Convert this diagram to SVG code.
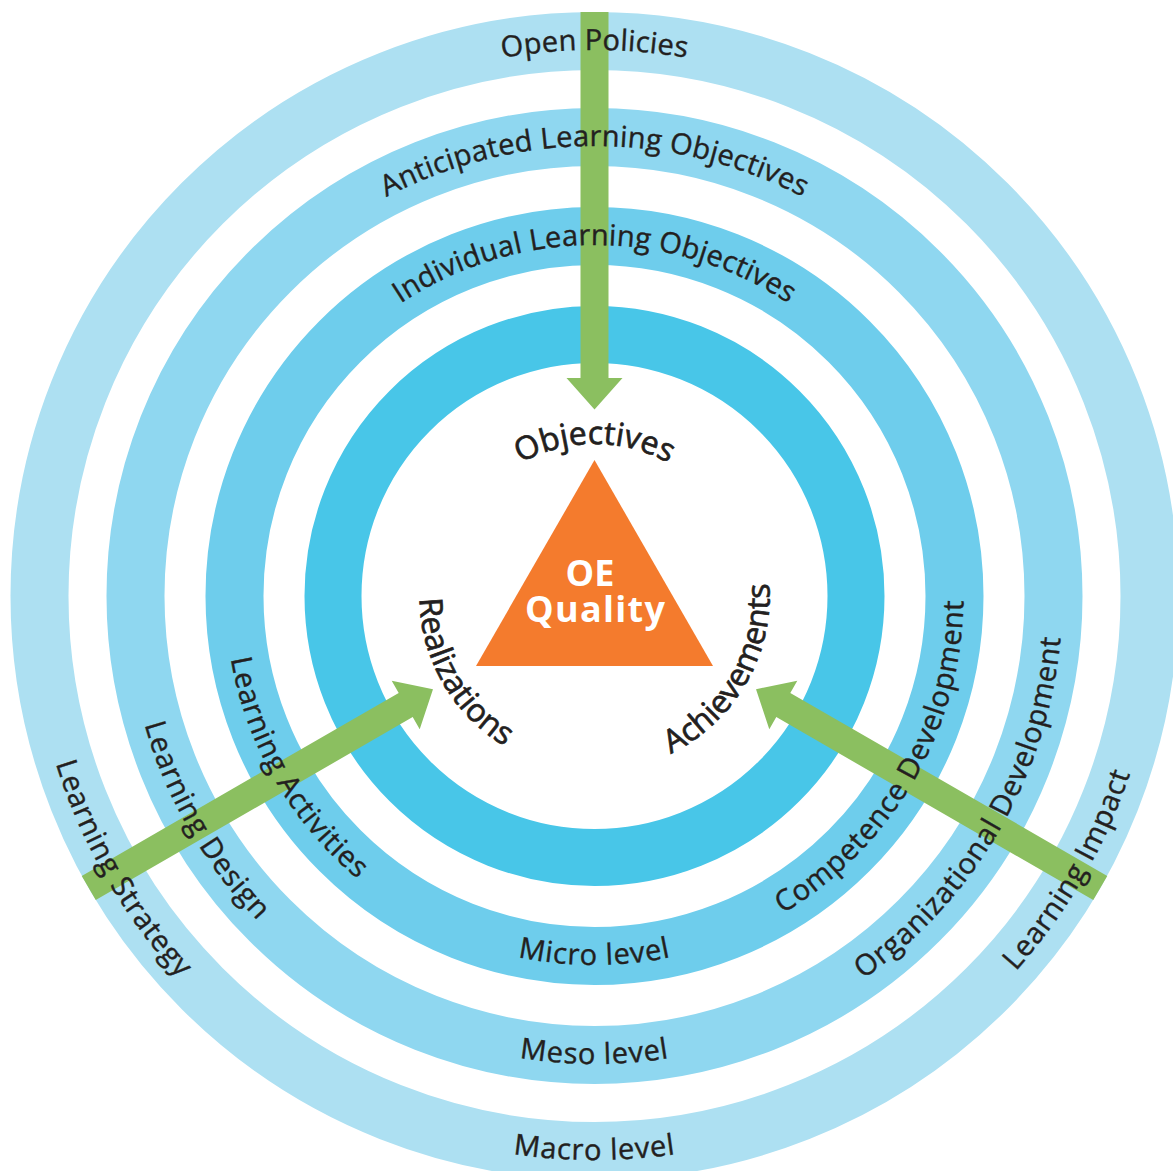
<svg xmlns="http://www.w3.org/2000/svg" xmlns:xlink="http://www.w3.org/1999/xlink" width="1173" height="1171" viewBox="0 0 1173 1171">
<style>
.ring{fill:none}
.macro{stroke:#ADE0F2;stroke-width:58}
.meso{stroke:#8FD7F0;stroke-width:58}
.micro{stroke:#6ECDEC;stroke-width:58}
.core{stroke:#48C6E8;stroke-width:57}
.arrow{fill:#8BBF60}
.lbl{font-family:"Open Sans","Noto Sans","Liberation Sans",sans-serif;font-size:29px;fill:#231F20;stroke:#231F20;stroke-width:0.4px}
.top{letter-spacing:0.2px}
.bot{letter-spacing:0.8px}
.inner{font-size:32px;stroke-width:0.7px}
.oe{font-family:"Open Sans","Noto Sans","Liberation Sans",sans-serif;font-weight:700;font-size:36px;fill:#FFFFFF;text-anchor:middle}
</style>
<defs>
<path id="cw546" d="M 48.5,596 A 546 546 0 0 1 1140.5,596"/>
<path id="cw450" d="M 144.5,596 A 450 450 0 0 1 1044.5,596"/>
<path id="cw351" d="M 243.5,596 A 351 351 0 0 1 945.5,596"/>
<path id="cw152" d="M 442.5,596 A 152 152 0 0 1 746.5,596"/>
<path id="ccw564" d="M 594.5,32 A 564 564 0 1 0 594.5,1160 A 564 564 0 1 0 594.5,32"/>
<path id="ccw468" d="M 594.5,128 A 468 468 0 1 0 594.5,1064 A 468 468 0 1 0 594.5,128"/>
<path id="ccw369" d="M 594.5,227 A 369 369 0 1 0 594.5,965 A 369 369 0 1 0 594.5,227"/>
<path id="ccw175" d="M 594.5,421 A 175 175 0 1 0 594.5,771 A 175 175 0 1 0 594.5,421"/>
<path id="arr" d="M -14,-584 L 14,-584 L 14,-218 L 28,-218 L 0,-186.5 L -28,-218 L -14,-218 Z"/>
</defs>
<rect width="1173" height="1171" fill="#FFFFFF"/>
<g id="ring-macro"><circle class="ring macro" cx="594.5" cy="596" r="555"/></g>
<g id="ring-meso"><circle class="ring meso" cx="594.5" cy="596" r="459"/></g>
<g id="ring-micro"><circle class="ring micro" cx="594.5" cy="596" r="360"/></g>
<g id="ring-core"><circle class="ring core" cx="594.5" cy="596" r="261.5"/></g>
<g id="oe-quality">
<polygon points="594.5,460 476,666 713,666" fill="#F47B2D"/>
<text class="oe" x="590" y="586">OE</text>
<text class="oe" x="595" y="622" textLength="140" lengthAdjust="spacing">Quality</text>
</g>
<g id="connectors">
<use href="#arr" class="arrow" transform="translate(594.5,596)"/>
<use href="#arr" class="arrow" transform="translate(594.5,596) rotate(120)"/>
<use href="#arr" class="arrow" transform="translate(594.5,596) rotate(-120)"/>
</g>
<g id="labels-macro">
<text class="lbl top"><textPath href="#cw546" startOffset="50%" text-anchor="middle">Open Policies</textPath></text>
<text class="lbl bot"><textPath href="#ccw564" startOffset="33.333%" text-anchor="middle">Learning Strategy</textPath></text>
<text class="lbl bot"><textPath href="#ccw564" startOffset="50%" text-anchor="middle">Macro level</textPath></text>
<text class="lbl bot"><textPath href="#ccw564" startOffset="66.667%" text-anchor="middle">Learning Impact</textPath></text>
</g>
<g id="labels-meso">
<text class="lbl top"><textPath href="#cw450" startOffset="50%" text-anchor="middle">Anticipated Learning Objectives</textPath></text>
<text class="lbl bot"><textPath href="#ccw468" startOffset="33.333%" text-anchor="middle">Learning Design</textPath></text>
<text class="lbl bot"><textPath href="#ccw468" startOffset="50%" text-anchor="middle">Meso level</textPath></text>
<text class="lbl bot"><textPath href="#ccw468" startOffset="66.667%" text-anchor="middle">Organizational Development</textPath></text>
</g>
<g id="labels-micro">
<text class="lbl top"><textPath href="#cw351" startOffset="50%" text-anchor="middle">Individual Learning Objectives</textPath></text>
<text class="lbl bot"><textPath href="#ccw369" startOffset="33.333%" text-anchor="middle">Learning Activities</textPath></text>
<text class="lbl bot"><textPath href="#ccw369" startOffset="50%" text-anchor="middle">Micro level</textPath></text>
<text class="lbl bot"><textPath href="#ccw369" startOffset="66.667%" text-anchor="middle">Competence Development</textPath></text>
</g>
<g id="labels-core">
<text class="lbl inner"><textPath href="#cw152" startOffset="50%" text-anchor="middle">Objectives</textPath></text>
<text class="lbl inner"><textPath href="#ccw175" startOffset="33.333%" text-anchor="middle">Realizations</textPath></text>
<text class="lbl inner"><textPath href="#ccw175" startOffset="66.667%" text-anchor="middle">Achievements</textPath></text>
</g>
</svg>
